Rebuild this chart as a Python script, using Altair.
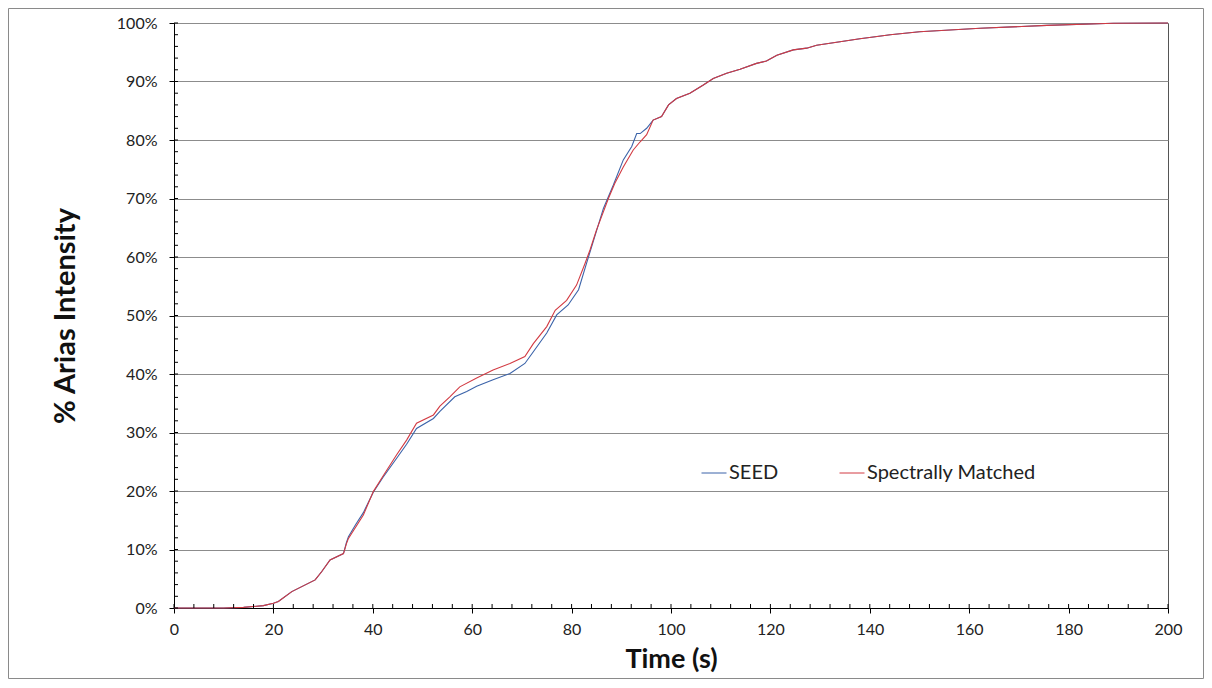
import altair as alt
import pandas as pd

# ---- data ----
seed_t = [0, 10, 14, 18, 20, 21, 23.7, 28.4, 29.7, 31.4, 34.1, 34.7, 35.1, 36.5, 38.1, 40.1,
          42.1, 44.8, 46.8, 48.8, 52.2, 53.5, 56.5, 58.9, 60.9, 64.2, 67.6, 70.6, 72.3, 75,
          77, 79.3, 81.4, 83, 86.4, 88.4, 90.4, 92.1, 93.1, 93.8, 95.1, 96.4, 98.1, 99.5,
          101.1, 103.8, 106.5, 108.5, 111.2, 113.9, 117.2, 119.2, 121.3, 124.6, 127.3, 129.3,
          134, 138, 140.7, 144.1, 150, 162.2, 175.6, 189, 200]
seed_p = [0, 0, 0.1, 0.4, 0.8, 1.1, 2.8, 4.8, 6.2, 8.2, 9.3, 11.2, 12.2, 14.2, 16.3, 19.8,
          22.4, 25.6, 28.0, 30.7, 32.4, 33.6, 36.1, 37.0, 37.9, 39.0, 40.1, 41.8, 43.8, 47.0,
          50.1, 51.8, 54.4, 58.9, 68.3, 72.3, 76.6, 78.9, 81.1, 81.1, 82.0, 83.4, 84.0, 86.0,
          87.1, 88.0, 89.4, 90.5, 91.4, 92.1, 93.1, 93.5, 94.5, 95.4, 95.7, 96.2,
          96.8, 97.3, 97.6, 98.0, 98.5, 99.1, 99.6, 99.95, 100]

matched_t = [0, 10, 14, 18, 20, 21, 23.7, 28.4, 29.7, 31.4, 34.1, 34.7, 35.1, 38.1, 40.1,
             42.1, 44.8, 46.8, 48.8, 52.2, 53.5, 55.5, 57.5, 60.9, 64.2, 67.6, 70.6, 72.3,
             75, 76.7, 79, 81, 82.7, 83.7, 85, 87.4, 88.7, 90.4, 92.4, 93.8, 95.1, 96.4,
             98.1, 99.5, 101.1, 103.8, 106.5, 108.5, 111.2, 113.9, 117.2, 119.2, 121.3,
             124.6, 127.3, 129.3, 134, 138, 140.7, 144.1, 150, 162.2, 175.6, 189, 200]
matched_p = [0, 0, 0.1, 0.4, 0.8, 1.1, 2.8, 4.8, 6.2, 8.2, 9.3, 11.0, 11.9, 15.9, 19.9,
             22.6, 26.2, 28.7, 31.6, 33.0, 34.5, 36.1, 37.8, 39.3, 40.7, 41.8, 43.0, 45.2,
             48.1, 50.9, 52.6, 55.2, 58.9, 61.2, 64.6, 70.0, 72.6, 75.4, 78.3, 79.7, 80.9, 83.4,
             84.0, 86.0, 87.1, 88.0, 89.4, 90.5, 91.4, 92.1, 93.1, 93.5, 94.5,
             95.4, 95.7, 96.2, 96.8, 97.3, 97.6, 98.0, 98.5, 99.1, 99.6, 99.95, 100]

series_names = ["SEED", "Spectrally Matched"]
series_colors = ["#3b63a9", "#d23a42"]
x_major = list(range(0, 201, 20))
x_minor = list(range(0, 201, 4))
y_major = list(range(0, 101, 10))
y_minor = list(range(0, 101, 2))

df = pd.concat([
    pd.DataFrame({"series": series_names[0], "t": seed_t, "p": seed_p, "o": range(len(seed_t))}),
    pd.DataFrame({"series": series_names[1], "t": matched_t, "p": matched_p, "o": range(len(matched_t))}),
], ignore_index=True)

W, H = 994, 585
FONT = "Lato"
xscale = alt.Scale(domain=[0, 200], nice=False, zero=False)
yscale = alt.Scale(domain=[0, 100], nice=False)

x_axis = alt.Axis(values=x_major, title="Time (s)", grid=False, domainColor="#000",
                  tickColor="#000", tickSize=5, labelPadding=8, labelFontSize=16,
                  labelFlush=False, labelColor="#222", labelFont=FONT,
                  titleFont=FONT, titleFontSize=27, titleFontWeight="bold",
                  titleColor="#111", titleY=59, titleBaseline="alphabetic")
y_axis = alt.Axis(values=y_major, title="% Arias Intensity", grid=True,
                  gridColor="#8c8c8c", gridWidth=1, domainColor="#000",
                  tickColor="#000", tickSize=5, labelPadding=12, labelFontSize=16,
                  labelFlush=False, labelColor="#222", labelFont=FONT,
                  labelExpr="datum.value + '%'",
                  titleFont=FONT, titleFontSize=29, titleFontWeight="bold",
                  titleColor="#111", titleX=-109, titleY=H / 2, titleAngle=-90,
                  titleAlign="center", titleBaseline="middle")

lines = alt.Chart(df).mark_line(strokeWidth=1.1, interpolate="linear").encode(
    x=alt.X("t:Q", scale=xscale, axis=x_axis),
    y=alt.Y("p:Q", scale=yscale, axis=y_axis),
    color=alt.Color("series:N",
                    scale=alt.Scale(domain=series_names, range=series_colors),
                    legend=alt.Legend(title=None, orient="none", legendX=527, legendY=437,
                                      direction="horizontal", symbolType="stroke",
                                      symbolSize=625, symbolStrokeWidth=1, labelOffset=2,
                                      labelFontSize=20, labelFont=FONT, labelColor="#222",
                                      labelLimit=400, columnPadding=58)),
    order="o:Q",
)

# inward minor / major tick marks along the axes
xt = alt.Chart(pd.DataFrame({"t": x_minor})).mark_rule(color="#000", strokeWidth=1).encode(
    x=alt.X("t:Q", scale=xscale, axis=x_axis),
    y=alt.value(H - 4), y2=alt.value(H),
)
yt = alt.Chart(pd.DataFrame({"p": y_minor})).mark_rule(color="#000", strokeWidth=1).encode(
    y=alt.Y("p:Q", scale=yscale, axis=y_axis),
    x=alt.value(0), x2=alt.value(4),
)

border = alt.Chart(pd.DataFrame({"k": [0]})).mark_rect(
    fillOpacity=0, stroke="#8a8a8a", strokeWidth=1
).encode(
    x=alt.value(-165.5), x2=alt.value(1029.5), y=alt.value(-14.5), y2=alt.value(655.5)
)

chart = alt.layer(border, lines, xt, yt).properties(
    width=W, height=H,
    autosize=alt.AutoSizeParams(type="none"),
    padding={"left": 166, "top": 15, "right": 36, "bottom": 71},
).configure_view(stroke="#555", strokeWidth=1)

chart.save("out.html", embed_options={"renderer": "svg", "actions": False})
